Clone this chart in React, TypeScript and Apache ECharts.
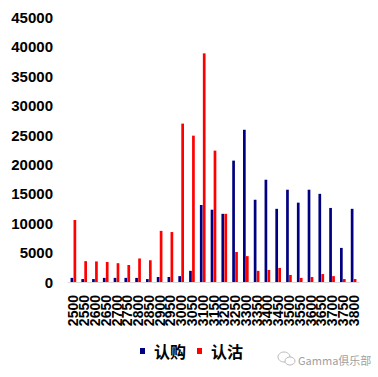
import React, { useEffect, useRef } from "react";
import * as echarts from "echarts";

const categories = [
  "2500", "2550", "2600", "2650", "2700", "2750", "2800", "2850", "2900", "2950",
  "3000", "3050", "3100", "3150", "3200", "3250", "3300", "3350", "3400", "3450",
  "3500", "3550", "3600", "3650", "3700", "3750", "3800",
];
const callValues = [
  700, 500, 500, 700, 700, 700, 700, 500, 850, 850,
  1000, 1900, 13100, 12300, 11600, 20650, 25900, 14000, 17400, 12450,
  15700, 13500, 15700, 15000, 12600, 5800, 12450,
];
const putValues = [
  10550, 3550, 3500, 3400, 3200, 2900, 4000, 3700, 8700, 8500,
  26950, 24900, 38900, 22350, 11600, 5100, 4400, 1900, 2050, 2400,
  1200, 700, 850, 1350, 1000, 500, 500,
];
const seriesNames = ["认购", "认沽"];
const yTicks = { min: 0, max: 45000, interval: 5000 };

export default function App() {
  const ref = useRef<HTMLDivElement>(null);
  useEffect(() => {
    if (!ref.current) return;
    const chart = echarts.init(ref.current, undefined, { renderer: "svg" });
    chart.setOption({
      animation: false,
      backgroundColor: "#ffffff",
      grid: { left: 68, right: 19, top: 17.5, bottom: 95, containLabel: false },
      legend: {
        data: seriesNames,
        left: 140,
        top: 343,
        padding: 0,
        icon: "rect",
        itemWidth: 5,
        itemHeight: 6,
        itemGap: 11,
        textStyle: {
          fontSize: 16,
          fontWeight: "bold",
          color: "#000",
          fontFamily: "Noto Sans CJK SC",
          padding: [0, 0, 0, 4],
        },
      },
      xAxis: {
        type: "category",
        data: categories,
        axisLine: { lineStyle: { color: "#d9d9d9", width: 1 } },
        axisTick: { show: false },
        axisLabel: {
          interval: 0,
          rotate: 90,
          margin: 13,
          fontSize: 14,
          fontWeight: "bold",
          color: "#000",
          fontFamily: "Liberation Sans",
          hideOverlap: false,
        },
      },
      yAxis: {
        type: "value",
        min: yTicks.min,
        max: yTicks.max,
        interval: yTicks.interval,
        axisLine: { show: false },
        axisTick: { show: false },
        splitLine: { show: false },
        axisLabel: {
          margin: 15,
          fontSize: 15,
          fontWeight: "bold",
          color: "#000",
          fontFamily: "Liberation Sans",
          formatter: (v: number) => String(v),
        },
      },
      series: [
        {
          name: seriesNames[0],
          type: "bar",
          data: callValues,
          barWidth: 2.7,
          barGap: "10%",
          itemStyle: { color: "#000080" },
        },
        {
          name: seriesNames[1],
          type: "bar",
          data: putValues,
          barWidth: 2.7,
          barGap: "10%",
          itemStyle: { color: "#ff0000" },
        },
      ],
      graphic: [
        {
          type: "ellipse",
          shape: { cx: 284, cy: 357, rx: 6, ry: 5 },
          style: { fill: "none", stroke: "#bbbbbb", lineWidth: 1 },
        },
        {
          type: "ellipse",
          shape: { cx: 290, cy: 361, rx: 5, ry: 4 },
          style: { fill: "#ffffff", stroke: "#bbbbbb", lineWidth: 1 },
        },
        {
          type: "text",
          x: 298,
          y: 360,
          style: {
            text: "Gamma俱乐部",
            fontSize: 11,
            fill: "#a0a0a0",
            fontFamily: "Noto Sans CJK SC",
            verticalAlign: "middle",
          },
        },
      ],
    });
    return () => chart.dispose();
  }, []);
  return (
    <div
      ref={ref}
      style={{ position: "fixed", left: 0, top: 0, width: 378, height: 377, background: "#fff" }}
    />
  );
}
